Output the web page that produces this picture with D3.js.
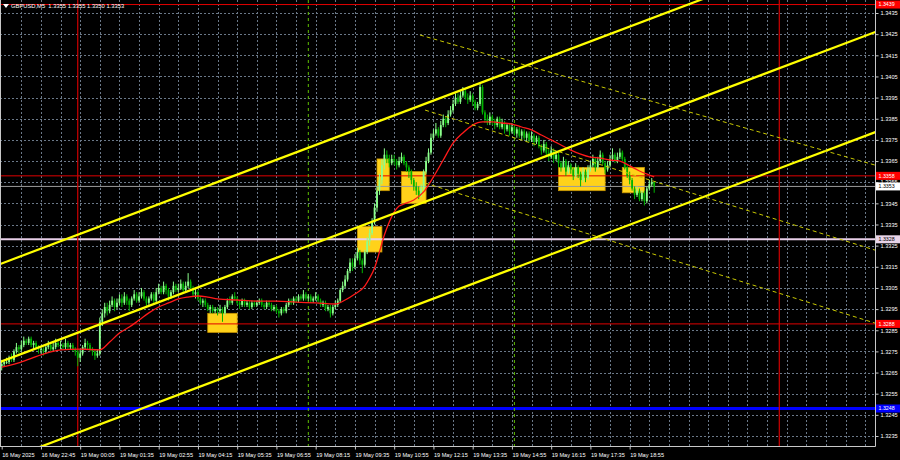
<!DOCTYPE html>
<html><head><meta charset="utf-8">
<script src="https://cdn.jsdelivr.net/npm/d3@7"></script>
<style>html,body{margin:0;padding:0;background:#000;}svg{display:block}</style>
</head><body><svg id="c" width="900" height="460"></svg>
<script>
// ---------- DATA ----------
const symbolTitle = "GBPUSD,M5  1.3355 1.3355 1.3350 1.3353";
const open = [
1.3268,1.3269,1.3270,1.3270,1.3272,1.3271,1.3275,1.3277,
1.3276,1.3278,1.3280,1.3279,1.3281,1.3278,1.3279,1.3277,
1.3276,1.3276,1.3275,1.3277,1.3278,1.3276,1.3277,1.3279,
1.3278,1.3278,1.3277,1.3279,1.3277,1.3278,1.3276,1.3275,
1.3272,1.3274,1.3277,1.3279,1.3278,1.3276,1.3275,1.3273,
1.3274,1.3289,1.3293,1.3296,1.3294,1.3297,1.3299,1.3296,
1.3298,1.3300,1.3298,1.3301,1.3299,1.3297,1.3300,1.3302,
1.3299,1.3301,1.3303,1.3300,1.3298,1.3300,1.3302,1.3299,
1.3303,1.3305,1.3303,1.3306,1.3304,1.3301,1.3303,1.3306,
1.3304,1.3305,1.3307,1.3304,1.3306,1.3308,1.3305,1.3302,
1.3303,1.3300,1.3298,1.3299,1.3297,1.3295,1.3296,1.3294,
1.3295,1.3294,1.3295,1.3293,1.3296,1.3299,1.3298,1.3301,
1.3300,1.3298,1.3297,1.3299,1.3297,1.3298,1.3296,1.3298,
1.3297,1.3298,1.3299,1.3297,1.3296,1.3298,1.3297,1.3295,
1.3296,1.3294,1.3293,1.3295,1.3294,1.3297,1.3299,1.3298,
1.3300,1.3299,1.3301,1.3300,1.3302,1.3300,1.3301,1.3299,
1.3300,1.3301,1.3299,1.3297,1.3298,1.3295,1.3296,1.3293,
1.3296,1.3297,1.3299,1.3304,1.3306,1.3309,1.3313,1.3317,
1.3315,1.3319,1.3322,1.3318,1.3316,1.3322,1.3327,1.3331,
1.3336,1.3343,1.3351,1.3356,1.3363,1.3368,1.3366,1.3364,
1.3366,1.3365,1.3363,1.3365,1.3367,1.3364,1.3362,1.3360,
1.3356,1.3353,1.3351,1.3349,1.3352,1.3360,1.3365,1.3369,
1.3376,1.3378,1.3380,1.3377,1.3382,1.3385,1.3383,1.3387,
1.3389,1.3392,1.3395,1.3393,1.3396,1.3398,1.3395,1.3394,
1.3396,1.3393,1.3390,1.3392,1.3400,1.3388,1.3385,1.3383,
1.3386,1.3384,1.3382,1.3385,1.3381,1.3383,1.3380,1.3382,
1.3379,1.3381,1.3378,1.3380,1.3377,1.3379,1.3376,1.3378,
1.3375,1.3377,1.3374,1.3376,1.3372,1.3370,1.3373,1.3369,
1.3367,1.3370,1.3366,1.3368,1.3364,1.3362,1.3365,1.3360,
1.3363,1.3361,1.3358,1.3362,1.3359,1.3356,1.3360,1.3357,
1.3361,1.3363,1.3366,1.3362,1.3365,1.3368,1.3364,1.3361,
1.3363,1.3366,1.3368,1.3365,1.3367,1.3369,1.3366,1.3362,
1.3358,1.3356,1.3352,1.3349,1.3351,1.3347,1.3350,1.3346,
1.3352,1.3354,1.3355];
const high = [
1.3271,1.3271,1.3272,1.3273,1.3274,1.3276,1.3279,1.3278,
1.3280,1.3282,1.3281,1.3282,1.3282,1.3280,1.3280,1.3278,
1.3277,1.3277,1.3278,1.3280,1.3279,1.3279,1.3281,1.3280,
1.3280,1.3279,1.3281,1.3280,1.3279,1.3279,1.3277,1.3276,
1.3276,1.3278,1.3281,1.3280,1.3279,1.3277,1.3276,1.3276,
1.3291,1.3295,1.3298,1.3298,1.3299,1.3301,1.3300,1.3300,
1.3302,1.3302,1.3303,1.3302,1.3300,1.3301,1.3304,1.3303,
1.3303,1.3305,1.3304,1.3301,1.3301,1.3303,1.3303,1.3305,
1.3307,1.3306,1.3308,1.3307,1.3305,1.3304,1.3308,1.3307,
1.3307,1.3309,1.3308,1.3308,1.3312,1.3309,1.3306,1.3305,
1.3304,1.3301,1.3300,1.3300,1.3298,1.3297,1.3297,1.3296,
1.3296,1.3297,1.3296,1.3297,1.3300,1.3301,1.3302,1.3303,
1.3301,1.3299,1.3300,1.3300,1.3299,1.3299,1.3299,1.3299,
1.3299,1.3300,1.3300,1.3298,1.3299,1.3299,1.3298,1.3297,
1.3297,1.3295,1.3296,1.3296,1.3298,1.3300,1.3300,1.3301,
1.3301,1.3302,1.3302,1.3304,1.3303,1.3302,1.3302,1.3301,
1.3303,1.3302,1.3300,1.3299,1.3299,1.3297,1.3297,1.3297,
1.3299,1.3300,1.3305,1.3308,1.3311,1.3314,1.3319,1.3319,
1.3321,1.3324,1.3323,1.3319,1.3323,1.3329,1.3333,1.3338,
1.3345,1.3353,1.3359,1.3366,1.3371,1.3370,1.3368,1.3368,
1.3368,1.3366,1.3367,1.3369,1.3368,1.3365,1.3363,1.3361,
1.3357,1.3355,1.3353,1.3354,1.3361,1.3367,1.3371,1.3378,
1.3380,1.3383,1.3381,1.3384,1.3387,1.3386,1.3389,1.3391,
1.3394,1.3397,1.3397,1.3398,1.3400,1.3399,1.3397,1.3398,
1.3397,1.3394,1.3393,1.3402,1.3401,1.3389,1.3387,1.3388,
1.3387,1.3385,1.3386,1.3386,1.3385,1.3384,1.3383,1.3383,
1.3383,1.3382,1.3381,1.3381,1.3380,1.3380,1.3379,1.3379,
1.3379,1.3378,1.3377,1.3377,1.3373,1.3375,1.3374,1.3371,
1.3372,1.3371,1.3370,1.3369,1.3365,1.3367,1.3366,1.3365,
1.3364,1.3362,1.3364,1.3363,1.3360,1.3362,1.3361,1.3363,
1.3365,1.3368,1.3367,1.3367,1.3370,1.3369,1.3365,1.3365,
1.3368,1.3371,1.3369,1.3369,1.3371,1.3370,1.3367,1.3363,
1.3360,1.3357,1.3353,1.3353,1.3352,1.3351,1.3351,1.3353,
1.3356,1.3357,1.3355];
const low = [
1.3266,1.3268,1.3269,1.3269,1.3270,1.3270,1.3274,1.3274,
1.3275,1.3277,1.3278,1.3278,1.3277,1.3276,1.3276,1.3274,
1.3274,1.3273,1.3274,1.3276,1.3275,1.3275,1.3276,1.3277,
1.3276,1.3276,1.3276,1.3276,1.3276,1.3275,1.3273,1.3268,
1.3270,1.3273,1.3276,1.3276,1.3275,1.3273,1.3271,1.3272,
1.3273,1.3287,1.3291,1.3292,1.3293,1.3296,1.3294,1.3295,
1.3297,1.3296,1.3297,1.3297,1.3294,1.3296,1.3299,1.3298,
1.3298,1.3300,1.3299,1.3296,1.3297,1.3299,1.3297,1.3298,
1.3302,1.3302,1.3302,1.3302,1.3299,1.3300,1.3302,1.3303,
1.3303,1.3304,1.3303,1.3303,1.3305,1.3304,1.3301,1.3300,
1.3299,1.3297,1.3296,1.3296,1.3294,1.3293,1.3293,1.3293,
1.3292,1.3293,1.3289,1.3292,1.3295,1.3297,1.3297,1.3299,
1.3297,1.3295,1.3296,1.3296,1.3296,1.3295,1.3295,1.3296,
1.3296,1.3297,1.3296,1.3295,1.3295,1.3296,1.3294,1.3294,
1.3293,1.3291,1.3292,1.3293,1.3293,1.3296,1.3297,1.3297,
1.3298,1.3298,1.3299,1.3299,1.3299,1.3299,1.3298,1.3298,
1.3299,1.3298,1.3296,1.3296,1.3294,1.3294,1.3291,1.3292,
1.3295,1.3296,1.3298,1.3303,1.3305,1.3308,1.3312,1.3313,
1.3314,1.3318,1.3316,1.3312,1.3315,1.3321,1.3325,1.3330,
1.3335,1.3341,1.3349,1.3354,1.3361,1.3364,1.3362,1.3363,
1.3363,1.3361,1.3362,1.3364,1.3363,1.3360,1.3357,1.3354,
1.3351,1.3349,1.3347,1.3348,1.3351,1.3359,1.3364,1.3368,
1.3375,1.3377,1.3376,1.3376,1.3381,1.3381,1.3382,1.3386,
1.3388,1.3391,1.3392,1.3392,1.3395,1.3394,1.3392,1.3393,
1.3391,1.3389,1.3389,1.3391,1.3387,1.3383,1.3382,1.3382,
1.3382,1.3380,1.3381,1.3380,1.3380,1.3378,1.3379,1.3377,
1.3378,1.3377,1.3376,1.3376,1.3375,1.3375,1.3374,1.3374,
1.3374,1.3372,1.3373,1.3371,1.3368,1.3369,1.3367,1.3365,
1.3366,1.3364,1.3365,1.3362,1.3360,1.3361,1.3358,1.3359,
1.3359,1.3356,1.3357,1.3357,1.3353,1.3355,1.3355,1.3356,
1.3360,1.3362,1.3360,1.3361,1.3364,1.3363,1.3359,1.3360,
1.3362,1.3365,1.3364,1.3364,1.3366,1.3365,1.3361,1.3357,
1.3354,1.3351,1.3347,1.3348,1.3346,1.3346,1.3344,1.3345,
1.3351,1.3353,1.3350];
const close = [
1.3269,1.3270,1.3270,1.3272,1.3271,1.3275,1.3277,1.3276,
1.3278,1.3280,1.3279,1.3281,1.3278,1.3279,1.3277,1.3276,
1.3276,1.3275,1.3277,1.3278,1.3276,1.3277,1.3279,1.3278,
1.3278,1.3277,1.3279,1.3277,1.3278,1.3276,1.3275,1.3272,
1.3274,1.3277,1.3279,1.3278,1.3276,1.3275,1.3273,1.3274,
1.3289,1.3293,1.3296,1.3294,1.3297,1.3299,1.3296,1.3298,
1.3300,1.3298,1.3301,1.3299,1.3297,1.3300,1.3302,1.3299,
1.3301,1.3303,1.3300,1.3298,1.3300,1.3302,1.3299,1.3303,
1.3305,1.3303,1.3306,1.3304,1.3301,1.3303,1.3306,1.3304,
1.3305,1.3307,1.3304,1.3306,1.3308,1.3305,1.3302,1.3303,
1.3300,1.3298,1.3299,1.3297,1.3295,1.3296,1.3294,1.3295,
1.3294,1.3295,1.3293,1.3296,1.3299,1.3298,1.3301,1.3300,
1.3298,1.3297,1.3299,1.3297,1.3298,1.3296,1.3298,1.3297,
1.3298,1.3299,1.3297,1.3296,1.3298,1.3297,1.3295,1.3296,
1.3294,1.3293,1.3295,1.3294,1.3297,1.3299,1.3298,1.3300,
1.3299,1.3301,1.3300,1.3302,1.3300,1.3301,1.3299,1.3300,
1.3301,1.3299,1.3297,1.3298,1.3295,1.3296,1.3293,1.3296,
1.3297,1.3299,1.3304,1.3306,1.3309,1.3313,1.3317,1.3315,
1.3319,1.3322,1.3318,1.3316,1.3322,1.3327,1.3331,1.3336,
1.3343,1.3351,1.3356,1.3363,1.3368,1.3366,1.3364,1.3366,
1.3365,1.3363,1.3365,1.3367,1.3364,1.3362,1.3360,1.3356,
1.3353,1.3351,1.3349,1.3352,1.3360,1.3365,1.3369,1.3376,
1.3378,1.3380,1.3377,1.3382,1.3385,1.3383,1.3387,1.3389,
1.3392,1.3395,1.3393,1.3396,1.3398,1.3395,1.3394,1.3396,
1.3393,1.3390,1.3392,1.3400,1.3388,1.3385,1.3383,1.3386,
1.3384,1.3382,1.3385,1.3381,1.3383,1.3380,1.3382,1.3379,
1.3381,1.3378,1.3380,1.3377,1.3379,1.3376,1.3378,1.3375,
1.3377,1.3374,1.3376,1.3372,1.3370,1.3373,1.3369,1.3367,
1.3370,1.3366,1.3368,1.3364,1.3362,1.3365,1.3360,1.3363,
1.3361,1.3358,1.3362,1.3359,1.3356,1.3360,1.3357,1.3361,
1.3363,1.3366,1.3362,1.3365,1.3368,1.3364,1.3361,1.3363,
1.3366,1.3368,1.3365,1.3367,1.3369,1.3366,1.3362,1.3358,
1.3356,1.3352,1.3349,1.3351,1.3347,1.3350,1.3346,1.3352,
1.3354,1.3355,1.3353];

// moving average, bar index -> price
const maBar = [0,4,8,16,24,32,40,44,48,52,56,60,64,68,72,76,80,84,88,96,104,112,120,128,136,140,144,148,150,152,154,156,158,160,162,164,168,172,176,180,184,188,192,196,200,204,208,212,216,220,224,228,232,236,240,244,248,252,256,260,264,266];
const maPrice = [1.32676,1.32686,1.32700,1.32733,1.32757,1.32761,1.32757,1.32794,1.32837,1.32865,1.32898,1.32932,1.32960,1.32979,1.32998,1.33007,1.33012,1.33007,1.32998,1.32993,1.32988,1.32988,1.32983,1.32979,1.32974,1.32993,1.33021,1.33059,1.33097,1.33144,1.33220,1.33300,1.33362,1.33409,1.33437,1.33447,1.33466,1.33504,1.33575,1.33655,1.33735,1.33783,1.33820,1.33835,1.33835,1.33830,1.33825,1.33811,1.33797,1.33773,1.33750,1.33726,1.33702,1.33683,1.33669,1.33664,1.33655,1.33650,1.33627,1.33603,1.33584,1.33575];

const xTickBars = [0,16,32,48,64,80,96,112,128,144,160,176,192,208,224,240,256];
const xTickLabels = ["16 May 2025","16 May 22:45","19 May 00:05","19 May 01:35","19 May 02:55","19 May 04:15","19 May 05:35","19 May 06:55","19 May 08:15","19 May 09:35","19 May 10:55","19 May 12:15","19 May 13:35","19 May 14:55","19 May 16:15","19 May 17:35","19 May 18:55"];
const yTicks = [1.3235,1.3245,1.3255,1.3265,1.3275,1.3285,1.3295,1.3305,1.3315,1.3325,1.3335,1.3345,1.3355,1.3365,1.3375,1.3385,1.3395,1.3405,1.3415,1.3425,1.3435];

// horizontal levels
const levelPrice = [1.3439,1.3358,1.3353,1.3328,1.3288,1.3248];
const levelKind  = ["red","red","bid","lilac","red","blue"];
// vertical separators (bar index)
const daySepBars = [31,317];
const sessionBars = [125,209];
// signal rectangles
const boxStart = [84,153,163,145,227,253];
const boxEnd   = [96,158,173,155,246,262];
const boxTop   = [1.3293,1.3366,1.3360,1.3334,1.3362,1.3362];
const boxBottom= [1.3284,1.3351,1.3345,1.3322,1.3351,1.3350];
// rising channel (solid yellow), anchors at bars
const chanBars  = [0,350];
const chanUpper = [1.33166,1.34697];
const chanMid   = [1.32703,1.34233];
const chanLower = [1.32230,1.33760];
// falling channel (dashed), anchors at bars
const dashStart = [170.5,172.6,172.6];
const dashEnd   = [356,356,356];
const dashP0    = [1.34246,1.33891,1.33546];
const dashP1    = [1.33631,1.33229,1.32884];

// ---------- STYLE ----------
const W=900,H=460, PR=875, PB=446;
const FONT="'Liberation Sans', Arial, sans-serif", FS=5.6;
const levelStyle = {
  red:{stroke:"#e00000",w:1,box:"#ff0000",txt:"#ffffff"},
  bid:{stroke:"#9a9a9a",w:1,box:"#ffffff",txt:"#000000"},
  lilac:{stroke:"#e8cfe8",w:2,box:"#e8d4e8",txt:"#000000"},
  blue:{stroke:"#0000ff",w:3,box:"#0000ff",txt:"#ffffff"}
};

const x = d3.scaleLinear().domain([0,320]).range([1.7,1.7+2.453*320]);
const y = d3.scaleLinear().domain([1.3235,1.3435]).range([436,13]);

const svg = d3.select("#c");
svg.append("rect").attr("width",W).attr("height",H).attr("fill","#000");
svg.append("defs").append("clipPath").attr("id","clip")
  .append("rect").attr("x",0).attr("y",0).attr("width",PR).attr("height",PB);
const g = svg.append("g").attr("clip-path","url(#clip)");

// grid
const gridCol="#6a7888";
g.append("g").selectAll("line").data(yTicks).join("line")
  .attr("x1",0).attr("x2",PR).attr("y1",d=>Math.round(y(d))+0.5).attr("y2",d=>Math.round(y(d))+0.5)
  .attr("stroke",gridCol).attr("stroke-width",1).attr("stroke-dasharray","2,2");
g.append("g").selectAll("line").data(d3.range(8,360,8)).join("line")
  .attr("x1",d=>Math.round(x(d))+0.5).attr("x2",d=>Math.round(x(d))+0.5).attr("y1",0).attr("y2",PB)
  .attr("stroke",gridCol).attr("stroke-width",1).attr("stroke-dasharray","2,2");

// signal boxes
g.append("g").selectAll("rect").data(boxStart).join("rect")
  .attr("x",(d,i)=>x(d)).attr("width",(d,i)=>x(boxEnd[i])-x(d))
  .attr("y",(d,i)=>y(boxTop[i])).attr("height",(d,i)=>y(boxBottom[i])-y(boxTop[i]))
  .attr("fill","#ffd21a").attr("stroke","#c89600").attr("stroke-width",0.8);

// horizontal levels
levelPrice.forEach((p,i)=>{
  const s=levelStyle[levelKind[i]];
  g.append("line").attr("x1",0).attr("x2",PR).attr("y1",y(p)).attr("y2",y(p))
    .attr("stroke",s.stroke).attr("stroke-width",s.w);
});

// vertical separators
g.append("g").selectAll("line").data(daySepBars).join("line")
  .attr("x1",d=>x(d)).attr("x2",d=>x(d)).attr("y1",0).attr("y2",PB)
  .attr("stroke","#d00000").attr("stroke-width",1.2);
g.append("g").selectAll("line").data(sessionBars).join("line")
  .attr("x1",d=>x(d)).attr("x2",d=>x(d)).attr("y1",0).attr("y2",PB)
  .attr("stroke","#5fc000").attr("stroke-width",1).attr("stroke-dasharray","3,3");

// candles
const bullCol="#8cff8c", bearCol="#00b400";
const cg=g.append("g");
close.forEach((c,i)=>{
  const o=open[i], col = c>=o?bullCol:bearCol, cx=x(i);
  cg.append("line").attr("x1",cx).attr("x2",cx).attr("y1",y(high[i])).attr("y2",y(low[i]))
    .attr("stroke",col).attr("stroke-width",1);
  const top=y(Math.max(o,c)), bot=y(Math.min(o,c));
  cg.append("rect").attr("x",cx-0.9).attr("width",1.8).attr("y",top).attr("height",Math.max(0.8,bot-top))
    .attr("fill",col);
});

// moving average
g.append("path").datum(maBar.map((b,i)=>[b,maPrice[i]]))
  .attr("d",d3.line().x(d=>x(d[0])).y(d=>y(d[1])).curve(d3.curveMonotoneX))
  .attr("fill","none").attr("stroke","#ff1a1a").attr("stroke-width",1.3);

// rising channel (ray extended across the whole plot)
[chanUpper,chanMid,chanLower].forEach(ch=>{
  const k=(ch[1]-ch[0])/(chanBars[1]-chanBars[0]);
  const b0=-10, b1=380;
  g.append("line").attr("x1",x(b0)).attr("y1",y(ch[0]+k*(b0-chanBars[0])))
    .attr("x2",x(b1)).attr("y2",y(ch[0]+k*(b1-chanBars[0])))
    .attr("stroke","#ffff00").attr("stroke-width",2.2);
});
// falling dashed channel
dashStart.forEach((b,i)=>{
  g.append("line").attr("x1",x(b)).attr("y1",y(dashP0[i])).attr("x2",x(dashEnd[i])).attr("y2",y(dashP1[i]))
    .attr("stroke","#c8c800").attr("stroke-width",1).attr("stroke-dasharray","4,3");
});

// frame
svg.append("line").attr("x1",PR+0.5).attr("x2",PR+0.5).attr("y1",0).attr("y2",PB+0.5).attr("stroke","#c8c8c8");
svg.append("line").attr("x1",0).attr("x2",PR+0.5).attr("y1",PB+0.5).attr("y2",PB+0.5).attr("stroke","#c8c8c8");
svg.append("line").attr("x1",0.5).attr("x2",0.5).attr("y1",0).attr("y2",PB+0.5).attr("stroke","#c8c8c8");

// right axis
const ay = svg.append("g").attr("transform",`translate(${PR+0.5},0)`)
  .call(d3.axisRight(y).tickValues(yTicks).tickFormat(d3.format(".4f")).tickSize(3).tickPadding(2));
ay.select(".domain").remove();
ay.selectAll("line").attr("stroke","#c8c8c8");
ay.selectAll("text").attr("fill","#ffffff").attr("font-family",FONT).attr("font-size",FS);

// bottom axis
const ax = svg.append("g").attr("transform",`translate(0,${PB+0.5})`)
  .call(d3.axisBottom(x).tickValues(xTickBars).tickFormat((d,i)=>xTickLabels[i]).tickSize(3).tickPadding(2));
ax.select(".domain").remove();
ax.selectAll("line").attr("stroke","#c8c8c8");
ax.selectAll("text").attr("fill","#ffffff").attr("font-family",FONT).attr("font-size",FS)
  .attr("text-anchor","start").attr("dy","0.9em");

// level price boxes (drawn over the axis, as in the terminal)
levelPrice.forEach((p,i)=>{
  const s=levelStyle[levelKind[i]], yy=y(p);
  svg.append("rect").attr("x",PR+1).attr("y",yy-4).attr("width",24).attr("height",8).attr("fill",s.box);
  svg.append("text").attr("x",PR+3.5).attr("y",yy).attr("dy","0.35em").attr("fill",s.txt)
    .attr("font-family",FONT).attr("font-size",5.3).text(d3.format(".4f")(p));
});

// title
svg.append("path").attr("d","M3,4 L9,4 L6,8 Z").attr("fill","#ffffff");
svg.append("text").attr("x",11).attr("y",8.2).attr("fill","#ffffff")
  .attr("font-family",FONT).attr("font-size",5.8).attr("xml:space","preserve").text(symbolTitle);
</script></body></html>
